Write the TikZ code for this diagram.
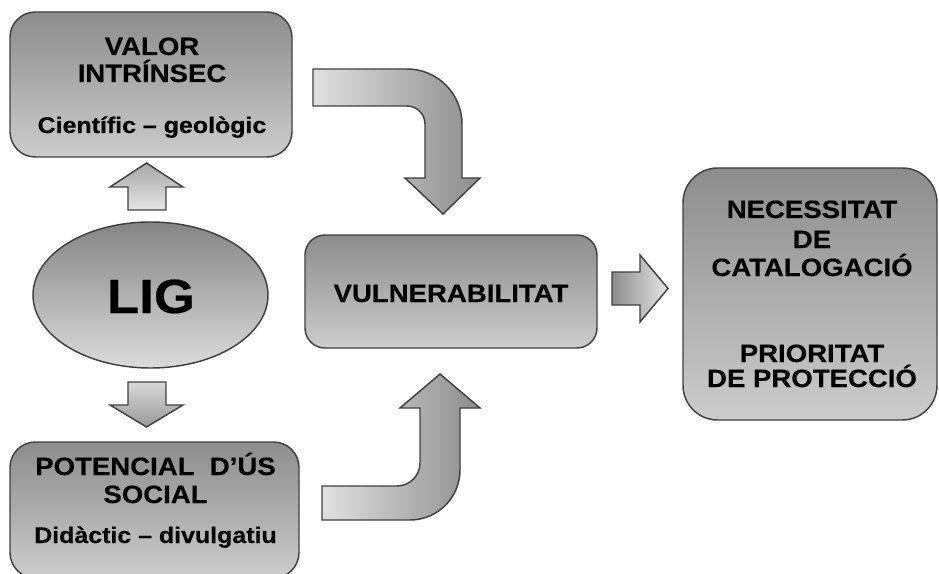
\documentclass[tikz,border=0pt]{standalone}
\usepackage{fontspec}
\newfontfamily\lab{Liberation Sans}[FakeStretch=1.1,FakeBold=0.4]
\usetikzlibrary{shapes.geometric}
\tikzset{
  box/.style={draw=black!75, line width=1.1pt, inner sep=0pt, outer sep=0pt,
    top color=black!45, bottom color=black!20},
  arr/.style={draw=black!75, line width=1.1pt},
  big/.style={anchor=base, inner sep=0pt, font=\lab\bfseries\fontsize{18.8}{20}\selectfont},
  small/.style={anchor=base, inner sep=0pt, font=\lab\bfseries\fontsize{17}{20}\selectfont},
}
\begin{document}
\begin{tikzpicture}[x=0.75pt,y=-0.75pt]
\useasboundingbox (0,0) rectangle (939,574);
\fill[white] (0,0) rectangle (939,574);
% boxes
\node[box, rounded corners=19pt, minimum width=211.5pt, minimum height=108.75pt] (valor) at (151,84.5) {};
\node[box, rounded corners=19pt, minimum width=216.75pt, minimum height=102pt] (pot) at (154.5,510) {};
\node[box, rounded corners=15pt, minimum width=219pt, minimum height=84.75pt] (vul) at (451,291.5) {};
\node[box, rounded corners=26pt, minimum width=190.5pt, minimum height=189pt] (nec) at (810,294) {};
\node[box, ellipse, top color=black!48, bottom color=black!14, minimum width=176.25pt, minimum height=109.5pt] (lig) at (150.5,295) {};
% texts
\node[big] (v1) at (152,55) {VALOR};
\node[big] (v2) at (152,82) {INTRÍNSEC};
\node[small] (v3) at (152,133) {Científic – geològic};
\node[big] (p1) at (155.5,475) {POTENCIAL\ \ D’ÚS};
\node[big] (p2) at (155.5,503) {SOCIAL};
\node[small] (p3) at (155.5,543) {Didàctic – divulgatiu};
\node[anchor=base, inner sep=0pt, font=\lab\bfseries\fontsize{36}{40}\selectfont] (l1) at (151,313) {LIG};
\node[big] (u1) at (451,302) {VULNERABILITAT};
\node[big] (n1) at (812,218) {NECESSITAT};
\node[big] (n2) at (812,248) {DE};
\node[big] (n3) at (812,276) {CATALOGACIÓ};
\node[big] (n4) at (812,362) {PRIORITAT};
\node[big] (n5) at (812,387) {DE PROTECCIÓ};
% small vertical arrows
\path[arr, top color=black!35, bottom color=black!10]
  (128,210) -- (128,187) -- (110,187) -- (146.5,163) -- (183,187) -- (166,187) -- (166,210) -- cycle;
\path[arr, top color=black!15, bottom color=black!40]
  (128,382) -- (128,405) -- (110,405) -- (146.5,427) -- (183,405) -- (166,405) -- (166,382) -- cycle;
% right arrow
\path[arr, left color=black!45, right color=black!10]
  (612,272) -- (640,272) -- (640,255) -- (668,288.5) -- (640,322) -- (640,305) -- (612,305) -- cycle;
% curved arrows
\path[arr, left color=black!12, right color=black!45]
  (313,69) -- (407,69) .. controls (437.4,69) and (462,93.6) .. (462,124) -- (462,178) -- (480,178) -- (443,214) -- (405,178) -- (425,178) -- (425,124) .. controls (425,114.1) and (416.9,106) .. (407,106) -- (313,106) -- cycle;
\path[arr, left color=black!12, right color=black!45]
  (322,486) -- (397,486) .. controls (409.7,486) and (420,475.7) .. (420,463) -- (420,408) -- (400,408) -- (440,374) -- (480,408) -- (460,408) -- (460,470) .. controls (460,497.6) and (437.6,520) .. (410,520) -- (322,520) -- cycle;
\end{tikzpicture}
\end{document}
